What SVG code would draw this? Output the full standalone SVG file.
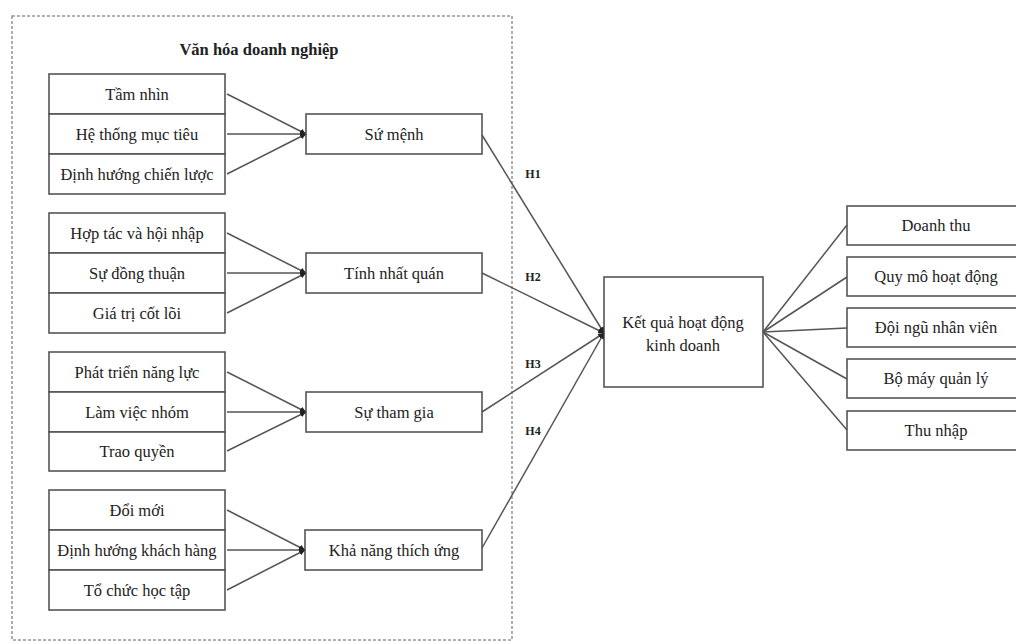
<svg xmlns="http://www.w3.org/2000/svg" width="1016" height="642" viewBox="0 0 1016 642">
<style>
.box{fill:#fff;stroke:#555;stroke-width:1.6}
.t{font-family:"Liberation Serif","Times New Roman",serif;font-size:16.5px;fill:#222;text-anchor:middle}
.title{font-family:"Liberation Serif","Times New Roman",serif;font-size:16.5px;font-weight:bold;fill:#222;text-anchor:middle}
.h{font-family:"Liberation Serif","Times New Roman",serif;font-size:12px;font-weight:bold;fill:#222;text-anchor:middle}
.c{stroke:#555;stroke-width:1.5;fill:none}
.ca{stroke:#555;stroke-width:1.5;fill:none;marker-end:url(#arr)}
.frame{fill:none;stroke:#999;stroke-width:1.6;stroke-dasharray:3 2}
</style>
<defs>
<marker id="arr" markerWidth="6" markerHeight="6" refX="6" refY="3" orient="auto" markerUnits="userSpaceOnUse">
<path d="M0,0 L6,3 L0,6 z" fill="#222"/>
</marker>
</defs>
<rect id="frame" class="frame" x="12" y="16" width="500" height="624"/>
<text id="title" class="title" x="259" y="55">Văn hóa doanh nghiệp</text>

<g id="group1">
<rect class="box" x="49" y="74" width="176" height="40"/>
<rect class="box" x="49" y="114" width="176" height="40"/>
<rect class="box" x="49" y="154" width="176" height="40"/>
<text class="t" x="137" y="100">Tầm nhìn</text>
<text class="t" x="137" y="140">Hệ thống mục tiêu</text>
<text class="t" x="137" y="180">Định hướng chiến lược</text>
</g>
<g id="su-menh">
<rect class="box" x="306" y="114" width="176" height="40"/>
<text class="t" x="394" y="140">Sứ mệnh</text>
</g>

<g id="group2">
<rect class="box" x="49" y="213" width="176" height="40"/>
<rect class="box" x="49" y="253" width="176" height="40"/>
<rect class="box" x="49" y="293" width="176" height="40"/>
<text class="t" x="137" y="239">Hợp tác và hội nhập</text>
<text class="t" x="137" y="279">Sự đồng thuận</text>
<text class="t" x="137" y="319">Giá trị cốt lõi</text>
</g>
<g id="tinh-nhat-quan">
<rect class="box" x="306" y="253" width="176" height="40"/>
<text class="t" x="394" y="279">Tính nhất quán</text>
</g>

<g id="group3">
<rect class="box" x="49" y="352" width="176" height="40"/>
<rect class="box" x="49" y="392" width="176" height="40"/>
<rect class="box" x="49" y="432" width="176" height="39"/>
<text class="t" x="137" y="378">Phát triển năng lực</text>
<text class="t" x="137" y="418">Làm việc nhóm</text>
<text class="t" x="137" y="457">Trao quyền</text>
</g>
<g id="su-tham-gia">
<rect class="box" x="306" y="392" width="176" height="40"/>
<text class="t" x="394" y="418">Sự tham gia</text>
</g>

<g id="group4">
<rect class="box" x="49" y="490" width="176" height="40"/>
<rect class="box" x="49" y="530" width="176" height="40"/>
<rect class="box" x="49" y="570" width="176" height="40"/>
<text class="t" x="137" y="516">Đổi mới</text>
<text class="t" x="137" y="556">Định hướng khách hàng</text>
<text class="t" x="137" y="596">Tổ chức học tập</text>
</g>
<g id="kha-nang">
<rect class="box" x="305" y="530" width="177" height="40"/>
<text class="t" x="394" y="556">Khả năng thích ứng</text>
</g>

<g id="ket-qua">
<rect class="box" x="604" y="277" width="159" height="110"/>
<text class="t" x="683" y="328">Kết quả hoạt động</text>
<text class="t" x="683" y="351">kinh doanh</text>
</g>

<g id="right">
<rect class="box" x="847" y="206" width="180" height="39"/>
<text class="t" x="936" y="231">Doanh thu</text>
<rect class="box" x="847" y="257" width="180" height="39"/>
<text class="t" x="936" y="282">Quy mô hoạt động</text>
<rect class="box" x="847" y="308" width="180" height="39"/>
<text class="t" x="936" y="333">Đội ngũ nhân viên</text>
<rect class="box" x="847" y="359" width="180" height="39"/>
<text class="t" x="936" y="384">Bộ máy quản lý</text>
<rect class="box" x="847" y="411" width="180" height="39"/>
<text class="t" x="936" y="436">Thu nhập</text>
</g>

<g id="connectors">
<line class="ca" x1="227" y1="94" x2="306" y2="134"/>
<line class="ca" x1="227" y1="134" x2="306" y2="134"/>
<line class="ca" x1="227" y1="174" x2="306" y2="134"/>
<line class="ca" x1="227" y1="233" x2="306" y2="273"/>
<line class="ca" x1="227" y1="273" x2="306" y2="273"/>
<line class="ca" x1="227" y1="313" x2="306" y2="273"/>
<line class="ca" x1="227" y1="372" x2="306" y2="412"/>
<line class="ca" x1="227" y1="412" x2="306" y2="412"/>
<line class="ca" x1="227" y1="451" x2="306" y2="412"/>
<line class="ca" x1="227" y1="510" x2="305" y2="550"/>
<line class="ca" x1="227" y1="550" x2="305" y2="550"/>
<line class="ca" x1="227" y1="590" x2="305" y2="550"/>
<line class="ca" x1="482" y1="135" x2="604" y2="333"/>
<line class="ca" x1="482" y1="273" x2="604" y2="333"/>
<line class="ca" x1="482" y1="412" x2="604" y2="333"/>
<line class="ca" x1="482" y1="548" x2="604" y2="333"/>
<line class="c" x1="763" y1="332" x2="847" y2="225"/>
<line class="c" x1="763" y1="332" x2="847" y2="277"/>
<line class="c" x1="763" y1="332" x2="847" y2="328"/>
<line class="c" x1="763" y1="332" x2="847" y2="379"/>
<line class="c" x1="763" y1="332" x2="847" y2="430"/>
<text class="h" x="533" y="178">H1</text>
<text class="h" x="533" y="281">H2</text>
<text class="h" x="533" y="368">H3</text>
<text class="h" x="533" y="435">H4</text>
</g>
</svg>
